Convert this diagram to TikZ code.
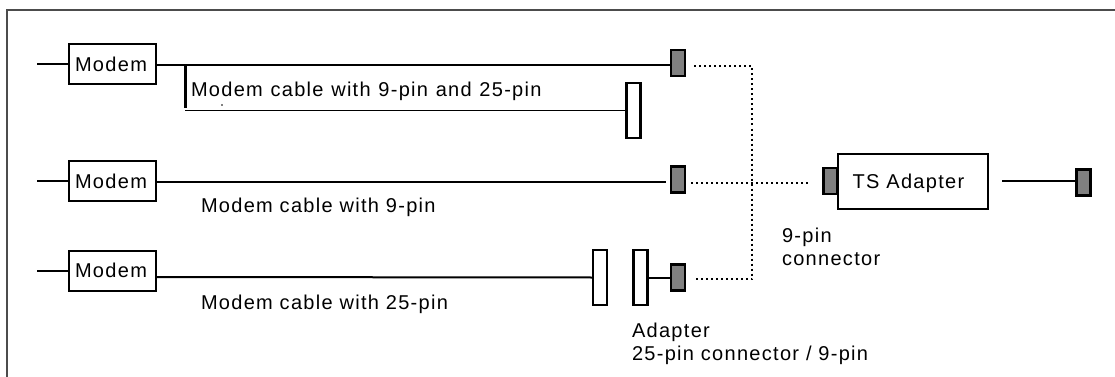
\documentclass[tikz,border=0pt]{standalone}
\usepackage{fontspec}
\setmainfont[LetterSpace=6.5]{Liberation Sans}
\usetikzlibrary{arrows.meta}

\tikzset{
    box/.style={draw, line width=2pt, inner sep=0pt, outer sep=0pt, fill=white, font=\fontsize{20}{23}\selectfont},
    plugg/.style={draw, line width=2.5pt, inner sep=0pt, outer sep=0pt, fill=gray, minimum width=14pt, minimum height=26pt},
    plugw/.style={draw, line width=2.5pt, inner sep=0pt, outer sep=0pt, fill=white, minimum width=14pt, minimum height=55pt},
    cable/.style={line width=2pt},
    thincable/.style={line width=1.3pt},
    link/.style={line width=2pt, dash pattern=on 2pt off 3pt},
    lbl/.style={inner sep=0pt, outer sep=0pt, font=\fontsize{20}{23}\selectfont, align=left}
}

\begin{document}
\begin{tikzpicture}[x=1pt,y=-1pt]
    \useasboundingbox (0,0) rectangle (1115,377);

    % frame
    \draw[line width=2pt, color=black!70] (7,377) -- (7,10) -- (1115,10);

    % modems
    \node[box, minimum width=87pt, minimum height=40pt] (modemA) at (112.5,64) {Modem\hspace{3pt}\null};
    \node[box, minimum width=87pt, minimum height=40pt] (modemB) at (112.5,181) {Modem\hspace{3pt}\null};
    \node[box, minimum width=87pt, minimum height=40pt] (modemC) at (112.5,270.5) {Modem\hspace{3pt}\null};

    % connectors
    \node[plugg] (plugA) at (678,63) {};
    \node[plugg] (plugB) at (678,179.5) {};
    \node[plugg] (plugC) at (678,277.5) {};
    \node[plugw] (wideA) at (633.5,110.5) {};
    \node[plugw] (wideC) at (600,277.5) {};
    \node[plugw] (wideD) at (640.5,277.5) {};

    % adapter
    \node[plugg] (plugT) at (830.5,181) {};
    \node[box, minimum width=150pt, minimum height=55pt, text depth=0pt] (adapter) at (912.5,181) {TS Adapter\hspace{8pt}\null};
    \node[plugg] (plugR) at (1083.5,182.5) {};

    % free ends
    \coordinate (stubA) at (37,64);
    \coordinate (stubB) at (37,181);
    \coordinate (stubC) at (37,270.5);
    \coordinate (cableA) at (157,65);
    \coordinate (cableB) at (157,182);
    \coordinate (cableC) at (157,277);
    \coordinate (endB) at (666,182);
    \coordinate (forkT) at (185,66);
    \coordinate (forkB) at (185,108);
    \coordinate (thinL) at (185,110.5);
    \coordinate (outR) at (1002,181);
    \coordinate (dotA) at (694,66.5);
    \coordinate (dotB) at (691,183);
    \coordinate (dotC) at (694,279);
    \coordinate (dotT) at (810,183);
    \coordinate (dotX) at (752,66.5);
    \coordinate (dotY) at (752,279);

    \foreach \a/\b in {stubA/modemA.west, stubB/modemB.west, stubC/modemC.west, cableB/endB, cableC/wideC.west, wideD.east/plugC.west}
        \draw[cable] (\a) -- (\b);
    \draw[cable] (cableA) -- (plugA.west |- cableA);
    \draw[line width=3pt] (forkT) -- (forkB);
    \draw[thincable] (thinL) -- (wideA.west);
    \draw[thincable] (outR) -- (outR -| plugR.west);

    % dotted links
    \draw[link] (dotA) -- (dotX) -- (dotY) -- (dotC);
    \draw[link] (dotB) -- (dotT);

    % labels
    \node[lbl, anchor=base west] (labelA) at (191,96) {\spaceskip=7.7pt Modem cable with 9-pin and 25-pin};
    \node[lbl, anchor=base west] (labelB) at (201,212) {Modem cable with 9-pin};
    \node[lbl, anchor=base west] (labelC) at (201,309) {Modem cable with 25-pin};
    \node[lbl, anchor=north west] (labelT) at (782,228) {9-pin\\connector};
    \node[lbl, anchor=north west] (labelD) at (632,323) {Adapter\\25-pin connector / 9-pin};

    \fill (222,105) circle (0.8);
\end{tikzpicture}
\end{document}
